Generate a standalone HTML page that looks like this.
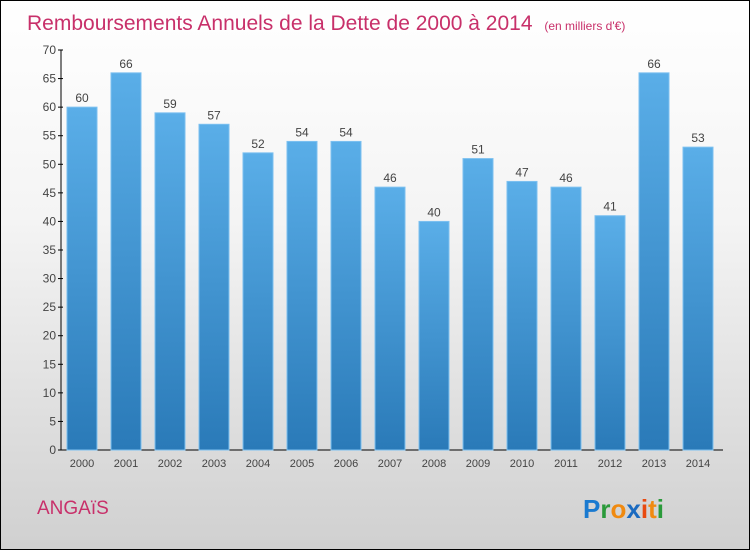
<!DOCTYPE html>
<html><head><meta charset="utf-8"><style>
body{margin:0}
#c{position:relative;width:748px;height:548px;border:1px solid #000;background:linear-gradient(#ffffff,#f4f4f4 40%,#d0d0d0);font-family:"Liberation Sans",sans-serif;overflow:hidden}
</style></head><body>
<div id="c">
<svg id="s" width="748" height="548" style="position:absolute;left:0;top:0">
<defs><linearGradient id="g" x1="0" y1="0" x2="0" y2="1"><stop offset="0" stop-color="#5aaee8"/><stop offset="1" stop-color="#2a7ab8"/></linearGradient></defs>
<text x="26" y="29" font-size="21" fill="#c8306a">Remboursements Annuels de la Dette de 2000 à 2014 <tspan font-size="12" dx="6">(en milliers d'€)</tspan></text>
<text x="36" y="513" font-size="19" fill="#c8306a">ANGAïS</text>
<g font-size="26" font-weight="bold" font-family="Liberation Sans,sans-serif">
<text x="582" y="517"><tspan fill="#1a7ad0">P</tspan><tspan fill="#2a9a3a">r</tspan><tspan fill="#f08a10">o</tspan><tspan fill="#1a6ac0">x</tspan><tspan fill="#e84a10">i</tspan><tspan fill="#f08a10">t</tspan><tspan fill="#2a9a3a">i</tspan></text></g>
<g id="plot"></g>
</svg></div>
<script>
const categories=["2000","2001","2002","2003","2004","2005","2006","2007","2008","2009","2010","2011","2012","2013","2014"];
const values=[60,66,59,57,52,54,54,46,40,51,47,46,41,66,53];
const yTicks=[0,5,10,15,20,25,30,35,40,45,50,55,60,65,70];
const NS="http://www.w3.org/2000/svg";
const g=document.getElementById('plot');
const y0=449,yTop=49,yMax=70,x0=60;
const y=v=>y0-(v/yMax)*(y0-yTop);
const x=i=>66+i*44;
function el(t,a){const e=document.createElementNS(NS,t);for(const k in a)e.setAttribute(k,a[k]);g.appendChild(e);return e;}
const ax=el('line',{x1:x0,y1:yTop,x2:x0,y2:y0,stroke:'#000'});


const bx=el('line',{x1:x0,y1:y0,x2:722,y2:y0,stroke:'#000'});


yTicks.forEach(t=>{
 const l=el('line',{x1:x0-3,y1:y(t),x2:x0+2,y2:y(t),stroke:'#000'});
 
 
 const tx=el('text',{x:x0-5,y:y(t)+4,'font-size':12,'text-anchor':'end',fill:'#444'});
 tx.textContent=t;
 
 
});
categories.forEach((c,i)=>{
 const v=values[i];
 const r=el('rect',{x:x(i),y:y(v),width:30,height:y0-y(v),fill:'url(#g)',stroke:'#7cc0f0','stroke-width':1});
 
 
 const vl=el('text',{x:x(i)+15,y:y(v)-5,'font-size':12,'text-anchor':'middle',fill:'#444'});
 vl.textContent=v;
 
 
 const xl=el('text',{x:x(i)+15,y:466,'font-size':11,'text-anchor':'middle',fill:'#444'});
 xl.textContent=c;
 
 
});
</script>
</body></html>
